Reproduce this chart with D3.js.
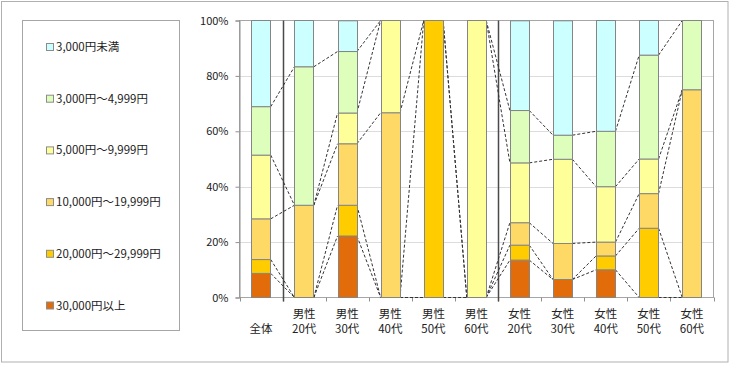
<!DOCTYPE html>
<head>
  <meta charset="utf-8">
  <script src="https://d3js.org/d3.v7.min.js"></script>
  <style>
    body { margin: 0; background: #fff; }
    text { font-family: "Noto Sans CJK JP", "Noto Sans", sans-serif; fill: #222; }
  </style>
</head>
<body>
  <div class="chart"></div>
  <script>
    // categories (x axis), label split into two lines
    var categories = ["全体", "男性20代", "男性30代", "男性40代", "男性50代", "男性60代",
                      "女性20代", "女性30代", "女性40代", "女性50代", "女性60代"];

    // series, stacked from the bottom up
    var seriesNames = ["30,000円以上", "20,000円～29,999円", "10,000円～19,999円",
                       "5,000円～9,999円", "3,000円～4,999円", "3,000円未満"];
    var seriesColors = ["#E36C0A", "#FFCC00", "#FFD966", "#FFFF99", "#DDFFBB", "#CCFFFF"];

    var over30000   = [8.7, 0, 22.2, 0, 0, 0, 13.5, 6.5, 10, 0, 0];
    var from20000   = [5.0, 0, 11.1, 0, 100, 0, 5.4, 0, 5, 25, 0];
    var from10000   = [14.7, 33.3, 22.2, 66.7, 0, 0, 8.1, 13.0, 5, 12.5, 75];
    var from5000    = [23.0, 0, 11.1, 33.3, 0, 100, 21.6, 30.4, 20, 12.5, 0];
    var from3000    = [17.5, 50, 22.2, 0, 0, 0, 18.9, 8.7, 20, 37.5, 25];
    var under3000   = [31.1, 16.7, 11.1, 0, 0, 0, 32.4, 41.3, 40, 12.5, 0];

    var yTicks = [0, 20, 40, 60, 80, 100];

    (function() {
      var width = 730, height = 365;
      var seriesValues = [over30000, from20000, from10000, from5000, from3000, under3000];

      var rows = categories.map(function(c, i) {
        var r = { cat: c };
        seriesNames.forEach(function(s, k) { r[s] = seriesValues[k][i]; });
        return r;
      });

      var svg = d3.select(".chart").append("svg")
        .attr("width", width)
        .attr("height", height);

      // outer frame
      svg.append("rect")
        .attr("x", 1.5).attr("y", 1.5)
        .attr("width", 726.5).attr("height", 360.5)
        .attr("fill", "#fff").attr("stroke", "#b0b0b0");

      var plot = { left: 239.5, right: 713.5, top: 20.5, bottom: 297.5 };

      var x = d3.scaleBand()
        .domain(categories)
        .range([plot.left, plot.right])
        .paddingInner(0.55)
        .paddingOuter(0.275);

      var y = d3.scaleLinear()
        .domain([0, 100])
        .range([plot.bottom, plot.top]);

      var step = x.step();

      // gridlines
      svg.append("g").selectAll("line")
        .data(yTicks.filter(function(t) { return t > 0 && t < 100; }))
        .enter().append("line")
        .attr("x1", plot.left).attr("x2", plot.right)
        .attr("y1", function(d) { return Math.round(y(d)) + 0.5; })
        .attr("y2", function(d) { return Math.round(y(d)) + 0.5; })
        .attr("stroke", "#dcdcdc");

      // plot border
      svg.append("rect")
        .attr("x", plot.left).attr("y", plot.top)
        .attr("width", plot.right - plot.left)
        .attr("height", plot.bottom - plot.top)
        .attr("fill", "none").attr("stroke", "#a6a6a6");

      // y axis
      var yAxis = d3.axisLeft(y)
        .tickValues(yTicks)
        .tickFormat(function(d) { return d + "%"; })
        .tickSize(4)
        .tickPadding(7);
      var yg = svg.append("g")
        .attr("transform", "translate(" + plot.left + ",0)")
        .call(yAxis);
      yg.select(".domain").attr("stroke", "#909090");
      yg.selectAll(".tick line").attr("stroke", "#909090");
      yg.selectAll("text").style("font-size", "11px").attr("fill", "#222");

      // x axis ticks at category boundaries
      var bounds = d3.range(categories.length + 1).map(function(i) { return plot.left + i * step; });
      svg.append("g").selectAll("line")
        .data(bounds)
        .enter().append("line")
        .attr("x1", function(d) { return Math.round(d) + 0.5; })
        .attr("x2", function(d) { return Math.round(d) + 0.5; })
        .attr("y1", plot.bottom).attr("y2", plot.bottom + 4)
        .attr("stroke", "#909090");

      // group separators (after 全体 and after 男性60代)
      svg.append("g").selectAll("line")
        .data([bounds[1], bounds[6]])
        .enter().append("line")
        .attr("x1", function(d) { return Math.round(d) + 0.5; })
        .attr("x2", function(d) { return Math.round(d) + 0.5; })
        .attr("y1", plot.top).attr("y2", plot.bottom + 4)
        .attr("stroke", "#4a4a4a").attr("stroke-width", 1.5);

      var stacked = d3.stack().keys(seriesNames)(rows);

      // series lines (dashed connectors between neighbouring bars)
      var links = [];
      stacked.forEach(function(layer, k) {
        if (k === stacked.length - 1) return;
        for (var i = 0; i < categories.length - 1; i++) {
          // skip the ones that would run along the 100% border
          if (layer[i][1] >= 100 && layer[i + 1][1] >= 100) continue;
          links.push({
            x1: x(categories[i]) + x.bandwidth(),
            y1: y(layer[i][1]),
            x2: x(categories[i + 1]),
            y2: y(layer[i + 1][1])
          });
        }
      });
      svg.append("g").selectAll("line")
        .data(links)
        .enter().append("line")
        .attr("x1", function(d) { return d.x1; })
        .attr("y1", function(d) { return d.y1; })
        .attr("x2", function(d) { return d.x2; })
        .attr("y2", function(d) { return d.y2; })
        .attr("stroke", "#333")
        .attr("stroke-width", 1)
        .attr("stroke-dasharray", "3,2");

      // bars
      svg.append("g").selectAll("g")
        .data(stacked)
        .enter().append("g")
        .attr("fill", function(d, k) { return seriesColors[k]; })
        .selectAll("rect")
        .data(function(d) { return d.filter(function(p) { return p[1] - p[0] > 0; }); })
        .enter().append("rect")
        .attr("x", function(d) { return Math.round(x(d.data.cat)) + 0.5; })
        .attr("y", function(d) { return y(d[1]); })
        .attr("width", Math.round(x.bandwidth()))
        .attr("height", function(d) { return y(d[0]) - y(d[1]); })
        .attr("stroke", "#858585")
        .attr("stroke-width", 1);

      // category labels
      var lab = svg.append("g").selectAll("text")
        .data(categories)
        .enter().append("text")
        .attr("text-anchor", "middle")
        .style("font-size", "11.5px")
        .attr("x", function(d) { return x(d) + x.bandwidth() / 2; });
      lab.each(function(d) {
        var t = d3.select(this);
        if (d.length > 2) {
          t.append("tspan").attr("x", t.attr("x")).attr("y", 318).text(d.slice(0, 2));
          t.append("tspan").attr("x", t.attr("x")).attr("y", 333).text(d.slice(2));
        } else {
          t.append("tspan").attr("x", t.attr("x")).attr("y", 333).text(d);
        }
      });

      // legend
      svg.append("rect")
        .attr("x", 22.5).attr("y", 20.5)
        .attr("width", 157).attr("height", 310)
        .attr("fill", "#fff").attr("stroke", "#a6a6a6");

      var legendOrder = seriesNames.slice().reverse();
      var legendColors = seriesColors.slice().reverse();
      var leg = svg.append("g").selectAll("g")
        .data(legendOrder)
        .enter().append("g")
        .attr("transform", function(d, i) { return "translate(46," + (47 + i * 51.7) + ")"; });
      leg.append("rect")
        .attr("x", 0.5).attr("y", -3.5)
        .attr("width", 7).attr("height", 7)
        .attr("fill", function(d, i) { return legendColors[i]; })
        .attr("stroke", "#8c8c8c");
      leg.append("text")
        .attr("x", 10).attr("y", 4)
        .style("font-size", "11.5px")
        .text(function(d) { return d; });
    })();
  </script>
</body>
